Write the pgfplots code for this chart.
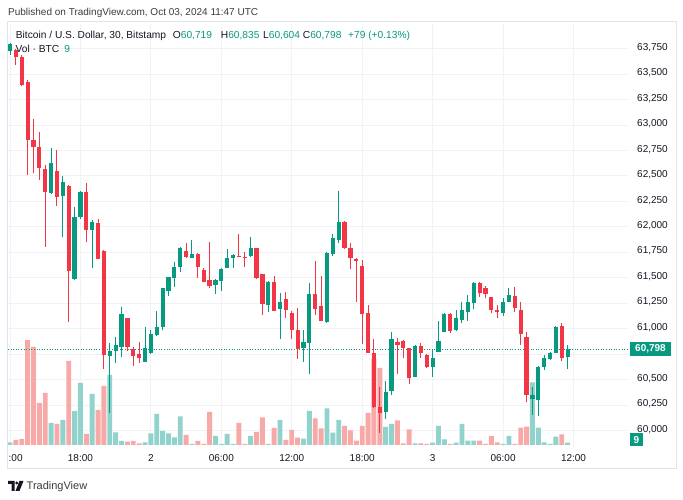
\documentclass[border=0pt]{standalone}
\usepackage{fontspec}
\setmainfont{Liberation Sans}
\usepackage{pgfplots}
\usepackage{pgfplotstable}
\pgfplotsset{compat=1.18}
\definecolor{up}{RGB}{8,153,129}
\definecolor{dn}{RGB}{242,54,69}
\definecolor{vup}{RGB}{146,210,204}
\definecolor{vdn}{RGB}{247,169,167}
\definecolor{gridc}{RGB}{240,242,247}
\definecolor{txt}{RGB}{19,23,34}
\definecolor{framec}{RGB}{224,227,235}
\definecolor{hdr}{RGB}{60,60,60}
\newcommand{\tvf}{\fontsize{10}{12}\selectfont}
\newcommand{\tvl}{\fontsize{10.2}{12.2}\selectfont}

% i open high low close volume(px)
\pgfplotstableread{
i o h l c v
0 63725 63805 63690 63795 2.5
7 62330 62778 62322 62625 22
9 62306 62503 61904 62437 25
11 61488 62192 61480 62094 34
12 62094 62356 62078 62339 62
14 61969 62068 61593 62044 51
17 60732 60862 60169 60784 70
18 60781 60921 60666 60840 12.5
19 60823 61216 60725 61144 4
23 60676 61020 60670 60807 2.7
24 60758 60987 60751 60948 11.7
25 60938 61174 60928 61020 31
26 61020 61403 60987 61397 14
27 61374 61511 61321 61505 11.7
28 61495 61652 61407 61609 7.7
29 61609 61805 61560 61796 28.5
31 61698 61871 61695 61734 1
35 61429 61485 61343 61478 9
36 61472 61592 61373 61586 1
37 61599 61780 61593 61691 11
38 61698 61730 61593 61724 1
41 61714 61897 61705 61790 9
44 61233 61465 61161 61456 1
46 61191 61348 60896 61266 25
50 60813 60987 60676 60866 6.3
51 60862 61446 60555 61338 34
54 61069 61757 61059 61747 36.7
55 61730 61930 61710 61887 12.3
56 61871 62352 61845 62051 25
64 60185 60486 60113 60381 18
65 60388 60971 60349 60896 21
69 60528 60840 60525 60833 1.7
72 60627 60801 60528 60715 2.3
73 60774 61079 60770 60882 19
74 60971 61150 60965 61144 5.7
76 60987 61184 60980 61102 2.3
77 61085 61259 61055 61184 21
78 61161 61331 61076 61259 4.3
79 61249 61458 61190 61452 4.3
84 61151 61299 61125 61266 1
85 61266 61397 61260 61331 9
89 60306 60430 60152 60349 62.7
90 60300 60633 60142 60627 17.3
91 60621 60742 60594 60709 2.7
92 60699 60770 60690 60764 1
93 60764 61026 60757 61020 8.3
95 60719 60835 60604 60798 2.3
}\upt

\pgfplotstableread{
i o h l c v
1 63737 63745 63590 63672 5
2 63672 63688 63385 63394 6
3 63420 63443 62510 62853 105
4 62853 63057 62532 62788 98
5 62788 62928 62461 62576 42
6 62570 62608 61805 62340 52
8 62552 62755 62208 62297 21
10 62405 62412 61069 61567 84
13 62339 62428 61855 61969 11
15 62035 62078 61680 61685 35
16 61763 61770 60601 60742 59
20 61102 61108 60781 60823 3.3
21 60797 60823 60637 60732 4
22 60751 60872 60666 60709 1.7
30 61763 61839 61695 61701 10
32 61734 61747 61495 61609 4
33 61576 61600 61455 61462 1
34 61478 61849 61397 61419 33
39 61714 61930 61700 61704 22
40 61707 61756 61609 61698 1
42 61790 61797 61485 61495 13
43 61534 61540 61134 61240 27.7
45 61456 61521 61170 61174 17
47 61289 61358 61102 61184 5
48 61157 61174 60896 60987 15
49 60987 61200 60702 60801 7.3
52 61341 61665 61134 61191 26.7
53 61222 61517 61075 61079 16.7
57 62051 62060 61785 61790 19
58 61796 61845 61583 61698 14.5
59 61680 61690 61266 61665 4.3
60 61619 61675 60845 61141 19
61 61151 61233 60760 60764 32
62 60758 60899 60225 60228 86
63 60234 60424 59972 60175 77
66 60872 60906 60555 60840 24.5
67 60879 60890 60709 60813 1.7
68 60807 60812 60454 60513 15.7
70 60833 60862 60715 60758 1.7
71 60742 60750 60617 60627 1
75 61144 61150 60961 60977 1
80 61452 61458 61308 61348 4.3
81 61397 61420 61299 61341 1
82 61308 61315 61151 61184 9
83 61184 61233 61108 61161 2.7
86 61321 61407 61161 61200 1
87 61184 61259 60840 60948 17.3
88 60921 60971 60277 60349 18.3
94 61026 61059 60686 60709 10.7
}\dnt

\pgfplotsset{tvgeom/.style={scale only axis, width=620pt, height=423pt,
  at={(8pt,53pt)}, anchor=south west, xmin=-0.341, xmax=105.28}}

\begin{document}
\begin{tikzpicture}
\useasboundingbox (0pt,0pt) rectangle (683pt,500pt);
\fill[white] (0pt,0pt) rectangle (683pt,500pt);
\draw[framec, line width=1pt] (7.5pt,31pt) rectangle (676pt,478pt);

% grid and scales
\begin{axis}[tvgeom,
  ymin=59838, ymax=63993,
  axis line style={draw=none},
  major tick length=0pt,
  xtick={0,12,...,96},
  xticklabels={,18:00,2,06:00,12:00,18:00,3,06:00,12:00},
  ytick={60000,60250,60500,60750,61000,61250,61500,61750,62000,62250,62500,62750,63000,63250,63500,63750},
  yticklabels={{60,000},{60,250},{60,500},,{61,000},{61,250},{61,500},{61,750},{62,000},{62,250},{62,500},{62,750},{63,000},{63,250},{63,500},{63,750}},
  scaled y ticks=false,
  yticklabel pos=right,
  grid=major,
  major grid style={draw=gridc, line width=1pt},
  xticklabel style={anchor=base, yshift=-15pt, inner sep=0pt, font=\tvf, text=txt},
  yticklabel style={anchor=base east, xshift=40pt, yshift=-1.6pt, inner sep=0pt, font=\tvf, text=txt},
]
\end{axis}

% volume
\begin{axis}[tvgeom, ymin=-2, ymax=421, hide axis]
\addplot[ybar, bar width=4.9pt, bar shift=0pt, fill=vup, draw=none] table[x=i,y=v]{\upt};
\addplot[ybar, bar width=4.9pt, bar shift=0pt, fill=vdn, draw=none] table[x=i,y=v]{\dnt};
\end{axis}

% candles
\begin{axis}[tvgeom, ymin=59838, ymax=63993, hide axis]
\addplot[up, dash pattern=on 1pt off 1.6pt, line width=0.8pt] coordinates {(-0.341,60798) (105.28,60798)};
\addplot[mark=none, draw=none, error bars/.cd, y dir=plus, y explicit, error mark=none,
  error bar style={draw=up, line width=1pt}]
  table[x=i, y=l, y error plus expr={\thisrow{h}-\thisrow{l}}]{\upt};
\addplot[mark=none, draw=none, error bars/.cd, y dir=plus, y explicit, error mark=none,
  error bar style={draw=dn, line width=1pt}]
  table[x=i, y=l, y error plus expr={\thisrow{h}-\thisrow{l}}]{\dnt};
\addplot[mark=none, draw=none, error bars/.cd, y dir=plus, y explicit, error mark=none,
  error bar style={draw=up, line width=4.2pt}]
  table[x=i, y=o, y error plus expr={\thisrow{c}-\thisrow{o}}]{\upt};
\addplot[mark=none, draw=none, error bars/.cd, y dir=plus, y explicit, error mark=none,
  error bar style={draw=dn, line width=4.2pt}]
  table[x=i, y=c, y error plus expr={\thisrow{o}-\thisrow{c}}]{\dnt};
\coordinate (lastp) at (axis cs:105.28,60798);
\end{axis}

\node[fill=up, text=white, font=\tvf\bfseries, minimum width=41pt, minimum height=14pt, inner sep=0pt] at ([xshift=22.5pt]lastp) {60,798};
\node[fill=up, text=white, font=\tvf\bfseries, minimum width=13pt, minimum height=13pt, inner sep=0pt] at (636.5pt,60pt) {9};
\node[anchor=base west, inner sep=0pt, font=\tvf, text=txt] at (8.5pt,38pt) {:00};

% header texts
\node[anchor=base west, inner sep=0pt, font=\tvf, text=hdr] at (8pt,484.4pt) {Published on TradingView.com, Oct 03, 2024 11:47 UTC};
\node[anchor=base west, inner sep=0pt, font=\tvl, text=txt] at (15.7pt,461.4pt) {Bitcoin / U.S. Dollar, 30, Bitstamp};
\node[anchor=base west, inner sep=0pt, font=\tvl, text=txt] at (172.7pt,461.4pt) {O\textcolor{up}{60,719}};
\node[anchor=base west, inner sep=0pt, font=\tvl, text=txt] at (220.7pt,461.4pt) {H\textcolor{up}{60,835}};
\node[anchor=base west, inner sep=0pt, font=\tvl, text=txt] at (263pt,461.4pt) {L\textcolor{up}{60,604}};
\node[anchor=base west, inner sep=0pt, font=\tvl, text=txt] at (302.7pt,461.4pt) {C\textcolor{up}{60,798}};
\node[anchor=base west, inner sep=0pt, font=\tvl, text=up] at (348pt,461.4pt) {+79 (+0.13\%)};
\node[anchor=base west, inner sep=0pt, font=\tvl, text=txt] at (15.5pt,447pt) {Vol · BTC\hspace{5pt}\textcolor{up}{9}};

% footer logo
\fill[txt] (8pt,19pt) -- (14.5pt,19pt) -- (14.5pt,9pt) -- (11.5pt,9pt) -- (11.5pt,16pt) -- (8pt,16pt) -- cycle;
\fill[txt] (16.8pt,17pt) circle (1.6pt);
\fill[txt] (19.5pt,19pt) -- (23.5pt,19pt) -- (19.5pt,9pt) -- (15.5pt,9pt) -- cycle;
\node[anchor=base west, inner sep=0pt, font=\fontsize{11}{13}\selectfont, text=hdr] at (26.5pt,10.4pt) {TradingView};
\end{tikzpicture}
\end{document}
